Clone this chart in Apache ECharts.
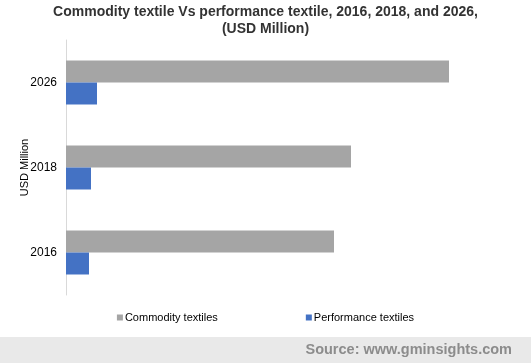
<!DOCTYPE html>
<html><head><meta charset="utf-8">
<script src="https://cdn.jsdelivr.net/npm/echarts@6/dist/echarts.min.js"></script>
<style>html,body{margin:0;padding:0;background:#fff}#c{width:531px;height:363px}</style>
</head><body><div id="c"></div>
<script>
const years = ['2026', '2018', '2016'];
const commodity = [383, 285, 268];
const performance = [31, 25, 23];
const seriesNames = ['Commodity textiles', 'Performance textiles'];

const chart = echarts.init(document.getElementById('c'), null, {renderer: 'canvas'});
chart.setOption({
  animation: false,
  title: {
    text: 'Commodity textile Vs performance textile, 2016, 2018, and 2026,\n(USD Million)',
    left: 'center', top: 4, padding: 0,
    textStyle: {fontFamily: 'Liberation Sans, Arial', fontSize: 14, fontWeight: 'bold', color: '#333', lineHeight: 17}
  },
  grid: {left: 66, right: 15, top: 40, bottom: 68},
  xAxis: {type: 'value', min: 0, max: 450, show: false},
  yAxis: {
    type: 'category', data: years, inverse: true,
    name: 'USD Million', nameLocation: 'middle', nameGap: 36, nameMoveOverlap: false,
    nameTextStyle: {fontFamily: 'Liberation Sans, Arial', fontSize: 11, color: '#000'},
    axisLine: {lineStyle: {color: '#d9d9d9', width: 1}},
    axisTick: {show: false},
    axisLabel: {fontFamily: 'Liberation Sans, Arial', fontSize: 12, color: '#000', margin: 9}
  },
  legend: {
    data: seriesNames, bottom: 35, left: 'center', itemGap: 88, padding: [5, 5, 5, 15],
    itemWidth: 6, itemHeight: 6, icon: 'rect',
    textStyle: {fontFamily: 'Liberation Sans, Arial', fontSize: 11, color: '#000', padding: [0,0,0,-3]}
  },
  series: [
    {name: seriesNames[0], type: 'bar', data: commodity, barWidth: 22, barGap: '0%', itemStyle: {color: '#a5a5a5'}},
    {name: seriesNames[1], type: 'bar', data: performance, barWidth: 22, itemStyle: {color: '#4472c4'}}
  ],
  graphic: [
    {type: 'rect', left: 0, top: 337, shape: {width: 531, height: 26}, style: {fill: '#e9e9e9'}},
    {type: 'text', right: 19, top: 342, style: {text: 'Source: www.gminsights.com', fill: '#8c8c8c', font: 'bold 14.5px Liberation Sans, Arial'}}
  ]
});
</script></body></html>
